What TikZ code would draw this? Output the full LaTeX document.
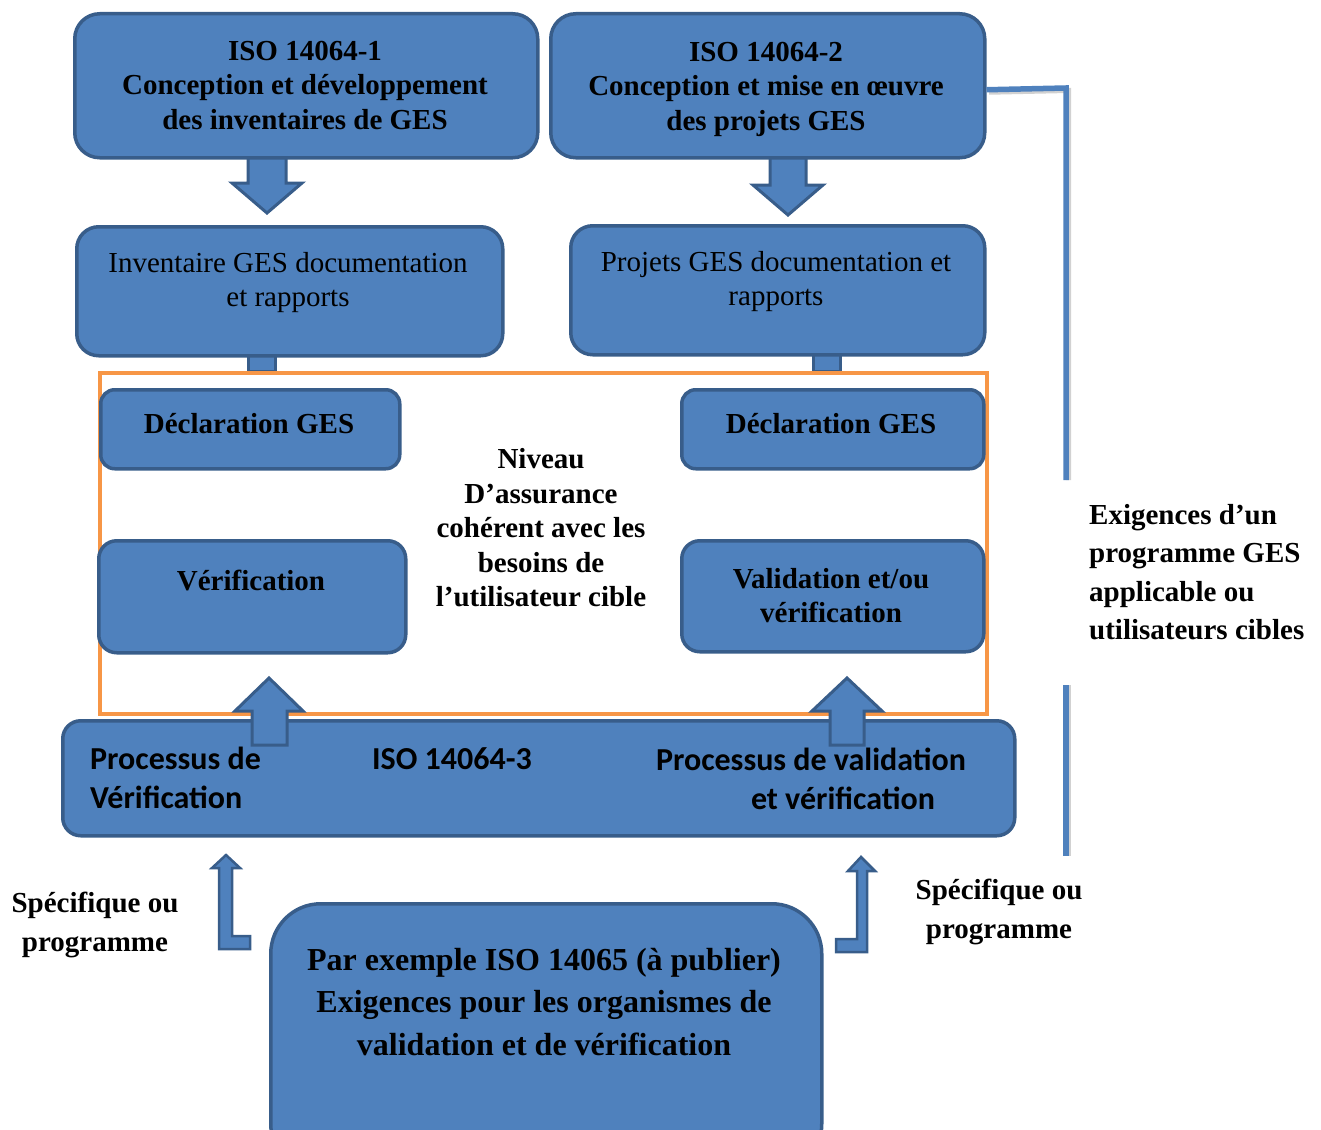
\documentclass[tikz,border=0pt]{standalone}
\usepackage{fontspec}
\setmainfont{Liberation Serif}
\setsansfont{Carlito}
\definecolor{boxfill}{HTML}{4F81BD}
\definecolor{boxline}{HTML}{385D8A}
\definecolor{orng}{HTML}{F79646}
\begin{document}
\begin{tikzpicture}[x=1pt,y=-1pt,
  bluebox/.style={draw=boxline, fill=boxfill, line width=3.5pt, inner sep=0pt, anchor=north west},
  frame/.style={draw=orng, line width=4.5pt, inner sep=0pt, anchor=north west},
  blockarrow/.style={draw=boxline, fill=boxfill, line width=3pt, line join=miter},
  bent/.style={draw=boxline, fill=boxfill, line width=2.5pt, line join=miter},
  bracket/.style={draw=boxfill, line width=5.5pt},
  bracketshadow/.style={draw=black!18, line width=5pt},
  bt/.style={font=\fontsize{29}{34.5}\selectfont\bfseries, align=center, inner sep=0pt},
  rt/.style={font=\fontsize{29}{34.5}\selectfont, align=center, inner sep=0pt},
  st/.style={font=\fontsize{32}{39}\selectfont\sffamily\bfseries, inner sep=0pt},
  bigt/.style={font=\fontsize{32}{42.5}\selectfont\bfseries, align=center, inner sep=0pt},
  sidet/.style={font=\fontsize{29}{38.5}\selectfont\bfseries, inner sep=0pt}
]
\useasboundingbox (0,0) rectangle (1321,1129);
\clip (0,0) rectangle (1321,1129);

% right bracket
\coordinate (brA) at (1066,88);
\coordinate (brB) at (1066,480);
\coordinate (brC) at (1066,685);
\coordinate (brD) at (1066,856);

% block arrows (down)
\draw[blockarrow] (248,150) -- (286,150) -- (286,183) -- (302,183) -- (267,213) -- (232,183) -- (248,183) -- cycle;
\draw[blockarrow] (770,150) -- (806,150) -- (806,185) -- (823,185) -- (788,215) -- (753,185) -- (770,185) -- cycle;

% stubs
\draw[blockarrow] (248,345) rectangle (275,371);
\draw[blockarrow] (813,345) rectangle (840,371);

% top boxes
\node[bluebox, rounded corners=25pt, minimum width=463pt, minimum height=144pt] (iso1) at (73,12) {};
\node[bluebox, rounded corners=25pt, minimum width=434pt, minimum height=144pt] (iso2) at (549,12) {};
\node[bluebox, rounded corners=22pt, minimum width=426pt, minimum height=129pt] (inv) at (75,225) {};
\node[bluebox, rounded corners=22pt, minimum width=414pt, minimum height=129pt] (proj) at (569,224) {};

\draw[bracketshadow] ([xshift=2.5pt,yshift=-6.5pt]iso2.east) -- ([xshift=2.5pt,yshift=-2.5pt]brA) -- ([xshift=2.5pt]brB);
\draw[bracketshadow] ([xshift=2.5pt]brC) -- ([xshift=2.5pt]brD);
\draw[bracket] ([yshift=-4pt]iso2.east) -- (brA) -- (brB);
\draw[bracket] (brC) -- (brD);

% orange frame
\node[frame, minimum width=887pt, minimum height=341pt] (fr) at (97.5,370.5) {};

\node[bluebox, rounded corners=14pt, minimum width=299pt, minimum height=79pt] (decl1) at (99,388) {};
\node[bluebox, rounded corners=14pt, minimum width=302pt, minimum height=79pt] (decl2) at (680,388) {};
\node[bluebox, rounded corners=18pt, minimum width=307pt, minimum height=112pt] (verif) at (97,539) {};
\node[bluebox, rounded corners=18pt, minimum width=302pt, minimum height=111pt] (valid) at (680,539) {};

% bottom process box
\node[bluebox, rounded corners=18pt, minimum width=952pt, minimum height=115pt] (proc) at (61,719) {};

% up arrows
\draw[blockarrow] (252,745) -- (287,745) -- (287,711) -- (303,711) -- (269,678) -- (235,711) -- (252,711) -- cycle;
\draw[blockarrow] (830,745) -- (864,745) -- (864,711) -- (882,711) -- (847,678) -- (812,711) -- (830,711) -- cycle;

% standard box
\node[bluebox, rounded corners=50pt, minimum width=551pt, minimum height=270pt] (std) at (269,902) {};

% bent arrows
\draw[bent] (226,855) -- (240,868) -- (232,868) -- (232,936) -- (250,936) -- (250,949) -- (219,949) -- (219,868) -- (212,868) -- cycle;
\draw[bent] (861,857) -- (875,871) -- (867,871) -- (867,952) -- (836,952) -- (836,939) -- (857,939) -- (857,871) -- (848,871) -- cycle;

% texts
\node[bt] (t1) at (305,85) {ISO 14064-1\\Conception et développement\\des inventaires de GES};
\node[bt] (t2) at (766,89) {ISO 14064-2\\Conception et mise en œuvre\\des projets GES};
\node[rt] (t3) at (288,282.5) {Inventaire GES documentation\\et rapports};
\node[rt] (t4) at (776,281.5) {Projets GES documentation et\\rapports};
\node[bt] (td1) at (249,424) {Déclaration GES};
\node[bt] (td2) at (831,424) {Déclaration GES};
\node[bt] (tv1) at (251,581) {Vérification};
\node[bt] (tv2) at (831,595.5) {Validation et/ou\\vérification};
\node[bt] (tc) at (541,528) {Niveau\\D’assurance\\cohérent avec les\\besoins de\\l’utilisateur cible};
\node[st, anchor=west, align=left] (tp1) at (90,778) {Processus de\\Vérification};
\node[st] (tp2) at (452,759) {ISO 14064-3};
\node[st] (tp3) at (811,759) {Processus de validation};
\node[st] (tp4) at (843,798) {et vérification};
\node[bigt] (tstd) at (544,1002) {Par exemple ISO 14065 (à publier)\\Exigences pour les organismes de\\validation et de vérification};
\node[sidet, align=center] (ts1) at (95,925) {Spécifique ou\\programme};
\node[sidet, align=center] (ts2) at (999,912) {Spécifique ou\\programme};
\node[sidet, align=left, anchor=west] (tr) at (1089,572) {Exigences d’un\\programme GES\\applicable ou\\utilisateurs cibles};
\end{tikzpicture}
\end{document}
